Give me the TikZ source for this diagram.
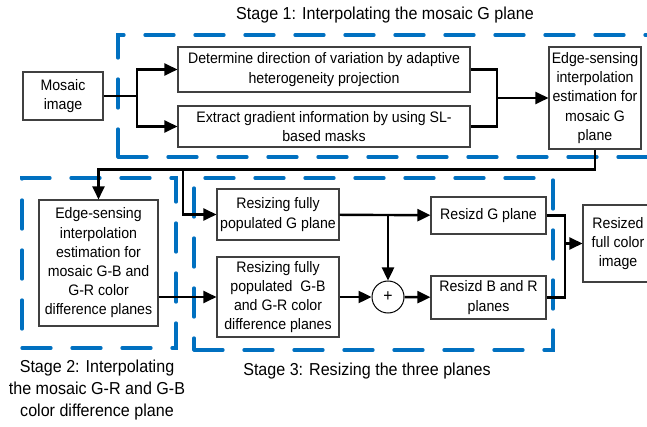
\documentclass[tikz,border=0pt]{standalone}
\usepackage{fontspec}
\setmainfont[FakeStretch=0.93]{Liberation Sans}
\usepackage{tikz}
\usetikzlibrary{positioning}
\usetikzlibrary{calc,arrows.meta}
\definecolor{stageblue}{RGB}{0,112,192}

\begin{document}
\begin{tikzpicture}[x=1pt,y=-1pt,>={Triangle[length=13pt,width=12pt]}]

    \tikzstyle{block}=[draw=black!75,line width=1.1pt,fill=white,inner sep=0pt,align=center,font=\fontsize{15.2}{19.2}\selectfont]
    \tikzstyle{flow}=[line width=2.4pt]
    \tikzstyle{stage}=[draw=stageblue,line width=3.3pt,line cap=round,dash pattern=on 29pt off 21pt,inner sep=0pt]
    \tikzstyle{caption}=[align=center,font=\fontsize{17.3}{21.7}\selectfont]
    \useasboundingbox (0,0) rectangle (647,427);
    \coordinate (origo) at (0,0);

% dashed stage frames
\node (stage1) [stage,minimum width=542,minimum height=122] at (389,96) {};
\node (stage2) [stage,minimum width=154,minimum height=170] at (99,263) {};
\node (stage3) [stage,minimum width=359,minimum height=172] at (373.5,264) {};

\node (cap1) [caption] at (385,15) {Stage 1: Interpolating the mosaic G plane};
\node (cap2) [caption] at (97,390) {Stage 2: Interpolating\\the mosaic G-R and G-B\\color difference plane};
\node (cap3) [caption] at (367,371) {Stage 3: Resizing the three planes};

\node (mosaic) [block,minimum width=80,minimum height=48] at (63,96) {Mosaic\\image};
\node (determine) [block,minimum width=292,minimum height=45] at (324,69.5) {Determine direction of variation by adaptive\\heterogeneity projection};
\node (extract) [block,minimum width=292,minimum height=41] at (324,126.5) {Extract gradient information by using SL-\\based masks};
\node (edge1) [block,minimum width=92,minimum height=102] at (595,98) {Edge-sensing\\interpolation\\estimation for\\mosaic G\\plane};

\node (edge2) [block,minimum width=119,minimum height=126] at (98.5,263) {Edge-sensing\\interpolation\\estimation for\\mosaic G-B and\\G-R color\\difference planes};

\node (resG) [block,minimum width=122,minimum height=51] at (278,214.5) {Resizing fully\\populated G plane};
\node (resGB) [block,minimum width=122,minimum height=80] at (278,297) {Resizing fully\\populated \ G-B\\and G-R color\\difference planes};
\node (sum) [draw,circle,line width=1pt,minimum size=32,inner sep=0pt,font=\fontsize{17}{17}\selectfont] at (388,297) {+};
\node (resdG) [block,minimum width=115,minimum height=37] at (488.5,215.5) {Resizd G plane};
\node (resdBR) [block,minimum width=115,minimum height=43] at (488.5,297.5) {Resizd B and R\\planes};
\node (resized) [block,minimum width=70,minimum height=77] at (618,243.5) {Resized\\full color\\image};

\coordinate (split1) at (137,96);
\coordinate (merge1) at (497,98);
\coordinate (tap) at (183,169);
\coordinate (merge2) at (565,243.5);

\draw[flow] (mosaic) -- (split1);
\draw[flow,->] (split1) |- (determine);
\draw[flow,->] (split1) |- (extract);

\draw[flow] (determine) -| (merge1);
\draw[flow] (extract) -| (merge1);
\draw[flow,->] (merge1) -- (edge1);

\draw[flow,->] (edge1.south) --++(0,20) -| (edge2.north);
\draw[flow,->] (tap) |- (resG);

\draw[flow,->] (edge2.east |- sum) -- (resGB.west |- sum);
\draw[flow,->] (resG) -- (resdG);
\draw[flow,->] (resG.east -| sum) -- (sum);
\draw[flow,->] (resGB) -- (sum);
\draw[flow,->] (sum) -- (resdBR);

\draw[flow] (resdG) -| (merge2);
\draw[flow] (resdBR) -| (merge2);
\draw[flow,->] (merge2) -- (resized);

\end{tikzpicture}
\end{document}
